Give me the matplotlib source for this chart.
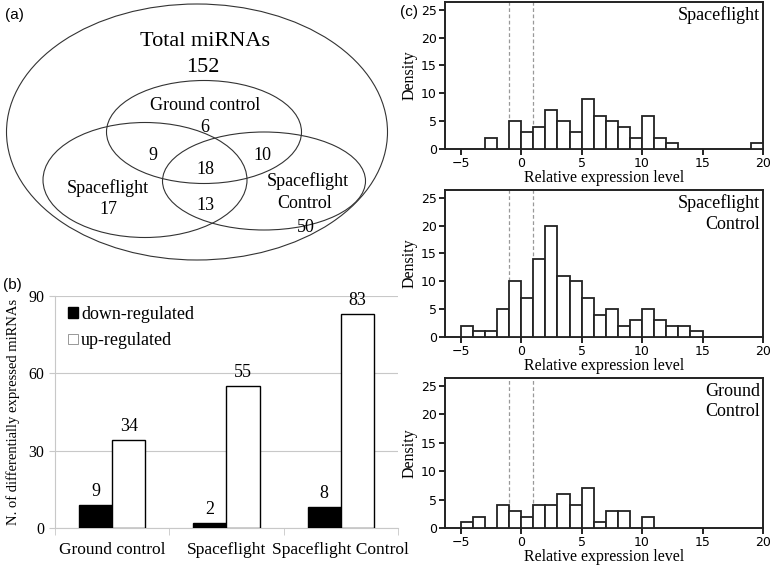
import matplotlib
matplotlib.use("Agg")
import matplotlib.pyplot as plt
from matplotlib.patches import Ellipse, Patch

# === Data ===
# (a) Venn counts
venn_total = 152
venn_gc_only = 6
venn_sf_only = 17
venn_sfc_only = 50
venn_gc_sf = 9
venn_gc_sfc = 10
venn_sf_sfc = 13
venn_all = 18

# (b) differentially expressed miRNAs
groups = ['Ground control', 'Spaceflight', 'Spaceflight Control']
down_reg = [9, 2, 8]
up_reg = [34, 55, 83]

# (c) histograms, bin left edge -> count (bin width 1)
sf_bins = [-3, -1, 0, 1, 2, 3, 4, 5, 6, 7, 8, 9, 10, 11, 12, 19]
sf_counts = [2, 5, 3, 4, 7, 5, 3, 9, 6, 5, 4, 2, 6, 2, 1, 1]
sfc_bins = [-5, -4, -3, -2, -1, 0, 1, 2, 3, 4, 5, 6, 7, 8, 9, 10, 11, 12, 13, 14]
sfc_counts = [2, 1, 1, 5, 10, 7, 14, 20, 11, 10, 7, 4, 5, 2, 3, 5, 3, 2, 2, 1]
gc_bins = [-5, -4, -2, -1, 0, 1, 2, 3, 4, 5, 6, 7, 8, 10]
gc_counts = [1, 2, 4, 3, 2, 4, 4, 6, 4, 7, 1, 3, 3, 2]

W, H = 770, 566
serif = 'Liberation Serif'
sans = 'Liberation Sans'

fig = plt.figure(figsize=(W / 100, H / 100), dpi=100)


def px_axes(x0, y0, x1, y1):
    # axes from pixel box (top-left origin)
    return fig.add_axes([x0 / W, 1 - y1 / H, (x1 - x0) / W, (y1 - y0) / H])


# === (a) Venn ===
ax = px_axes(0, 0, 400, 280)
ax.set_xlim(0, 400)
ax.set_ylim(280, 0)
ax.axis('off')
ec = '#333333'
for (cx, cy, w, h) in [(197, 132, 381, 256), (204, 132, 195, 103),
                       (145, 180, 204, 115), (264, 181, 203, 98)]:
    ax.add_patch(Ellipse((cx, cy), w, h, fill=False, ec=ec, lw=0.8))

ax.text(205, 42, 'Total miRNAs', family=serif, fontsize=16, ha='center', va='center')
ax.text(203, 67, str(venn_total), family=serif, fontsize=16, ha='center', va='center')
ax.text(205, 105, 'Ground control', family=serif, fontsize=13, ha='center', va='center')
ax.text(205, 127, str(venn_gc_only), family=serif, fontsize=13, ha='center', va='center')
ax.text(153, 155, str(venn_gc_sf), family=serif, fontsize=13, ha='center', va='center')
ax.text(262, 155, str(venn_gc_sfc), family=serif, fontsize=13, ha='center', va='center')
ax.text(205, 170, str(venn_all), family=serif, fontsize=13, ha='center', va='center')
ax.text(108, 188, 'Spaceflight', family=serif, fontsize=13, ha='center', va='center')
ax.text(108, 209, str(venn_sf_only), family=serif, fontsize=13, ha='center', va='center')
ax.text(205, 205, str(venn_sf_sfc), family=serif, fontsize=13, ha='center', va='center')
ax.text(308, 181, 'Spaceflight', family=serif, fontsize=13, ha='center', va='center')
ax.text(305, 204, 'Control', family=serif, fontsize=13, ha='center', va='center')
ax.text(306, 227, str(venn_sfc_only), family=serif, fontsize=13, ha='center', va='center')

fig.text(5 / W, 1 - 15 / H, '(a)', family=sans, fontsize=11, va='center')
fig.text(3 / W, 1 - 285 / H, '(b)', family=sans, fontsize=11, va='center')
fig.text(400 / W, 1 - 12 / H, '(c)', family=sans, fontsize=11, va='center')

# === (b) Bars ===
ax = px_axes(55, 296, 398, 528)
x = range(len(groups))
bw = 0.29
ax.bar([i - bw / 2 for i in x], down_reg, bw, color='black', ec='black', lw=1, zorder=3)
ax.bar([i + bw / 2 for i in x], up_reg, bw, color='white', ec='black', lw=1, zorder=3)
for i in x:
    ax.text(i - bw / 2, down_reg[i] + 2, str(down_reg[i]), family=serif, fontsize=13,
            ha='center', va='bottom')
    ax.text(i + bw / 2, up_reg[i] + 2, str(up_reg[i]), family=serif, fontsize=13,
            ha='center', va='bottom')
ax.set_xlim(-0.5, 2.5)
ax.set_ylim(0, 90)
ax.set_yticks([0, 30, 60, 90])
ax.yaxis.grid(True, color='#c8c8c8', lw=0.8, zorder=0)
ax.set_xticks(list(x))
ax.set_xticklabels(groups, family=serif, fontsize=12.5)
ax.set_xticks([-0.5, 0.5, 1.5, 2.5], minor=True)
ax.tick_params(axis='x', which='major', length=0, pad=10)
ax.tick_params(axis='x', which='minor', length=5, color='#c8c8c8')
ax.tick_params(axis='y', length=4, color='#c8c8c8', labelsize=11.5)
for lab in ax.get_yticklabels():
    lab.set_family(serif)
for s in ['top', 'right']:
    ax.spines[s].set_visible(False)
ax.spines['left'].set_color('#c8c8c8')
ax.spines['bottom'].set_color('#c8c8c8')
ax.set_ylabel('N. of differentially expressed miRNAs', family=serif, fontsize=10.5, labelpad=6)
ax.legend(handles=[Patch(fc='black', ec='black', label='down-regulated'),
                   Patch(fc='white', ec='#888888', lw=0.6, label='up-regulated')],
          loc='upper left', bbox_to_anchor=(0.0, 1.01), frameon=False,
          prop={'family': serif, 'size': 13}, handlelength=0.55, handleheight=0.55,
          handletextpad=0.2, labelspacing=0.5, borderaxespad=0.3)

# === (c) Histograms ===
panels = [
    (sf_bins, sf_counts, 'Spaceflight', (2, 149)),
    (sfc_bins, sfc_counts, 'Spaceflight\nControl', (190, 337)),
    (gc_bins, gc_counts, 'Ground\nControl', (378, 528)),
]
for bins, counts, title, (top, bot) in panels:
    ax = px_axes(445, top, 763, bot)
    ax.bar(bins, counts, width=1, align='edge', color='white', ec='#222222', lw=1.3, zorder=3)
    ax.axvline(-1, color='#999999', lw=0.9, ls=(0, (3, 2)), zorder=2)
    ax.axvline(1, color='#999999', lw=0.9, ls=(0, (3, 2)), zorder=2)
    ax.set_xlim(-6.3, 20)
    ax.set_ylim(0, 26.4)
    ax.set_xticks([-5, 0, 5, 10, 15, 20])
    ax.set_yticks([0, 5, 10, 15, 20, 25])
    ax.tick_params(labelsize=9, length=4, width=1.2, pad=2)
    for s in ax.spines.values():
        s.set_linewidth(1.4)
        s.set_color('#222222')
    ax.set_ylabel('Density', family=serif, fontsize=11.5, labelpad=2)
    ax.set_xlabel('Relative expression level', family=serif, fontsize=11.5, labelpad=0)
    ax.text(0.99, 0.97, title, transform=ax.transAxes, family=serif, fontsize=13,
            ha='right', va='top', linespacing=1.3)

fig.savefig('out.png', dpi=100)
